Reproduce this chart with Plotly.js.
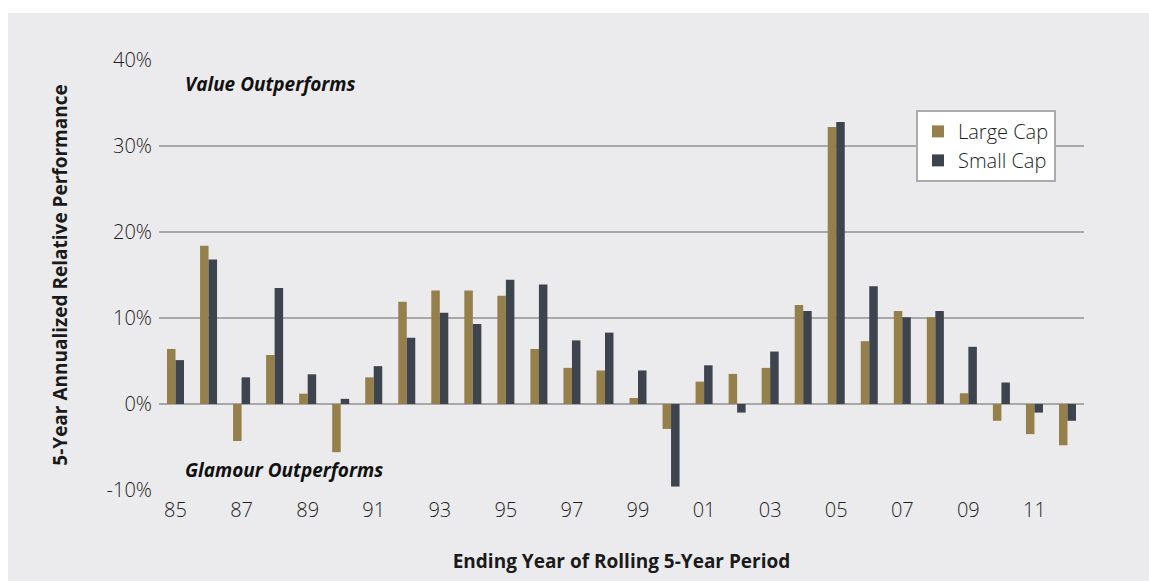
<!DOCTYPE html>
<html>
<head>
<meta charset="utf-8">
<script src="https://cdn.plot.ly/plotly-3.0.1.min.js"></script>
<style>
  html, body { margin: 0; padding: 0; background: #ffffff; width: 1149px; height: 581px; overflow: hidden; }
  #chart { position: absolute; left: 8px; top: 13px; width: 1141px; height: 568px; }
</style>
</head>
<body>
<div id="chart"></div>
<script>
// ---- data ----
const years = [1985,1986,1987,1988,1989,1990,1991,1992,1993,1994,1995,1996,1997,1998,
               1999,2000,2001,2002,2003,2004,2005,2006,2007,2008,2009,2010,2011,2012];
const largeCap = [6.4,18.4,-4.3,5.7,1.2,-5.6,3.1,11.9,13.2,13.2,12.6,6.4,4.2,3.9,
                  0.7,-2.9,2.6,3.5,4.2,11.5,32.2,7.3,10.8,10.1,1.25,-1.95,-3.5,-4.8];
const smallCap = [5.1,16.8,3.1,13.5,3.45,0.6,4.4,7.7,10.6,9.3,14.45,13.9,7.4,8.3,
                  3.9,-9.6,4.5,-1.0,6.1,10.8,32.8,13.7,10.1,10.8,6.65,2.5,-1.0,-1.95];
const seriesNames = ['Large Cap', 'Small Cap'];
const xTickVals = [1985,1987,1989,1991,1993,1995,1997,1999,2001,2003,2005,2007,2009,2011];
const xTickText = ['85','87','89','91','93','95','97','99','01','03','05','07','09','11'];
const yTickVals = [-10,0,10,20,30,40];
const yTickText = ['-10%','0%','10%','20%','30%','40%'];
const xTitle = 'Ending Year of Rolling 5-Year Period';
const yTitle = '5-Year Annualized Relative Performance';
const topNote = 'Value Outperforms';
const bottomNote = 'Glamour Outperforms';

// boundary ticks every two years on the zero line
const boundaryTicks = [];
for (let i = 0; i <= years.length; i += 2) boundaryTicks.push(years[0] - 0.5 + i);
const xRange = [years[0] - 0.5, years[years.length - 1] + 0.5];

const gold = '#957f4a';
const slate = '#3d444e';
const bg = '#ebebed';

const traces = [
  { type: 'bar', name: seriesNames[0], x: years, y: largeCap,
    marker: { color: gold, line: { width: 0 } }, hoverinfo: 'x+y' },
  { type: 'bar', name: seriesNames[1], x: years, y: smallCap,
    marker: { color: slate, line: { width: 0 } }, hoverinfo: 'x+y' }
];

const lightFont = { family: '"Open Sans", Lato, sans-serif', size: 20, color: '#1e1e1e', weight: 300 };
const boldFont = { family: '"Open Sans", Roboto, sans-serif', size: 19, color: '#1a1a1a', weight: 'bold' };

const layout = {
  width: 1141, height: 568,
  margin: { l: 151, r: 65, t: 47, b: 91 },
  paper_bgcolor: bg,
  plot_bgcolor: bg,
  barmode: 'group',
  bargap: 0.485,
  bargroupgap: 0,
  showlegend: true,
  legend: {
    x: (916 - 159) / 925, y: 0.884, xanchor: 'left', yanchor: 'top',
    bgcolor: '#ffffff', bordercolor: '#ababab', borderwidth: 2,
    font: lightFont, tracegroupgap: 0,
    traceorder: 'normal'
  },
  xaxis: {
    range: xRange,
    tickmode: 'array', tickvals: xTickVals, ticktext: xTickText,
    ticks: '', showgrid: false, zeroline: false, showline: false,
    tickfont: lightFont, ticklabelstandoff: 6,
    title: { text: xTitle, standoff: 32, font: boldFont },
    fixedrange: true
  },
  xaxis2: {
    overlaying: 'x', matches: 'x', anchor: 'free', position: 0.2,
    range: xRange,
    tickmode: 'array', tickvals: boundaryTicks, ticks: 'outside', ticklen: 8, tickwidth: 2,
    tickcolor: '#a3a3a3', showticklabels: false, showgrid: false, zeroline: false,
    showline: true, linecolor: '#a3a3a3', linewidth: 3, side: 'bottom'
  },
  yaxis: {
    range: [-10, 40],
    tickmode: 'array', tickvals: yTickVals, ticktext: yTickText,
    showgrid: true, gridcolor: '#a8a8a8', gridwidth: 1.5,
    zeroline: false, showline: false, ticks: '',
    tickfont: lightFont, ticklabelstandoff: 6,
    title: { text: yTitle, standoff: 33, font: boldFont },
    fixedrange: true
  },
  annotations: [
    { text: topNote, xref: 'paper', yref: 'y', x: (183 - 159) / 925, y: 37.2,
      xanchor: 'left', yanchor: 'middle', showarrow: false,
      font: Object.assign({}, boldFont, { size: 19, color: '#111', style: 'italic' }) },
    { text: bottomNote, xref: 'paper', yref: 'y', x: (183 - 159) / 925, y: -7.7,
      xanchor: 'left', yanchor: 'middle', showarrow: false,
      font: Object.assign({}, boldFont, { size: 19, color: '#111', style: 'italic' }) }
  ]
};

Plotly.newPlot('chart', traces, layout, { displayModeBar: false, staticPlot: true });
</script>
</body>
</html>
